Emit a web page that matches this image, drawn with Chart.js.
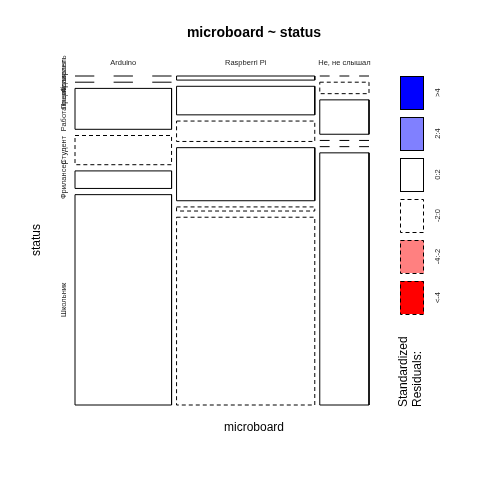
<!DOCTYPE html>
<html><head><meta charset="utf-8">
<script src="https://cdn.jsdelivr.net/npm/chart.js@4/dist/chart.umd.min.js"></script>
<style>html,body{margin:0;padding:0;background:#fff}</style>
</head><body>
<canvas id="c" width="480" height="480"></canvas>
<script>
// ---- data ----
const microboardLevels = ["Arduino", "Raspberri Pi", "Не, не слышал"];
const statusLevels = ["Аспирант", "Преподаватель", "Работающий", "Студент", "Фрилансер", "Школьник"];
const countsArduino   = [0, 0, 7, 5, 3, 36];
const countsRaspberry = [1, 7, 5, 13, 1, 46];
const countsNone      = [0, 1, 3, 0, 0, 22];
const legendLabels = [">4", "2:4", "0:2", "-2:0", "-4:-2", "<-4"];
const legendColors = ["#0000FF", "#8080FF", "#FFFFFF", "#FFFFFF", "#FF8080", "#FF0000"];

const table = [countsArduino, countsRaspberry, countsNone];
const FONT = '"Liberation Sans", Arial, sans-serif';
const GX = 5 / 284, GY = 6.2 / 298;

const colTot = table.map(c => c.reduce((a, b) => a + b, 0));
const N = colTot.reduce((a, b) => a + b, 0);
const rowTot = statusLevels.map((_, i) => table.reduce((a, c) => a + c[i], 0));

const cells = [];
let x = 0;
table.forEach((col, j) => {
  const w = colTot[j] / N;
  let y = 0;
  col.forEach((n, i) => {
    const h = n / colTot[j];
    const e = colTot[j] * rowTot[i] / N;
    cells.push({ j, i, n, x0: x, x1: x + w, y0: y, y1: y + h, res: (n - e) / Math.sqrt(e) });
    y += h + GY;
  });
  x += w + GX;
});

function shade(r) {
  if (r > 4) return legendColors[0];
  if (r > 2) return legendColors[1];
  if (r >= 0) return legendColors[2];
  if (r >= -2) return legendColors[3];
  if (r >= -4) return legendColors[4];
  return legendColors[5];
}

const datasets = cells.map(c => {
  const pts = c.n > 0
    ? [{x:c.x0,y:c.y0},{x:c.x1,y:c.y0},{x:c.x1,y:c.y1},{x:c.x0,y:c.y1},{x:c.x0,y:c.y0}]
    : [{x:c.x0,y:c.y0},{x:c.x1,y:c.y0}];
  return {
    data: pts,
    borderColor: '#000',
    borderWidth: 1,
    backgroundColor: shade(c.res),
    fill: c.n > 0 ? 'shape' : false,
    borderDash: c.res < 0 ? [4, 3] : [],
    pointRadius: 0,
    tension: 0,
    clip: false
  };
});

const textPlugin = {
  id: 'texts',
  beforeDraw(chart) {
    const g = chart.ctx;
    g.save(); g.fillStyle = '#fff'; g.fillRect(0, 0, chart.width, chart.height); g.restore();
  },
  afterDraw(chart) {
    const g = chart.ctx, sx = chart.scales.x, sy = chart.scales.y;
    g.save();
    g.fillStyle = '#000';
    g.textAlign = 'center'; g.textBaseline = 'middle';
    g.font = 'bold 14px ' + FONT;
    g.fillText('microboard ~ status', 254, 33);
    g.font = '12px ' + FONT;
    g.fillText('microboard', 254, 428);
    g.save(); g.translate(37, 240); g.rotate(-Math.PI / 2); g.fillText('status', 0, 0); g.restore();

    // column labels
    g.font = '7.5px ' + FONT; g.fillStyle = '#222';
    cells.filter(c => c.i === 0).forEach(c => {
      g.fillText(microboardLevels[c.j], (sx.getPixelForValue(c.x0) + sx.getPixelForValue(c.x1)) / 2, 63);
    });
    // row labels (positioned by first column)
    cells.filter(c => c.j === 0).forEach(c => {
      const yc = (sy.getPixelForValue(c.y0) + sy.getPixelForValue(c.y1)) / 2;
      g.save(); g.translate(64, yc); g.rotate(-Math.PI / 2);
      g.fillText(statusLevels[c.i], 0, 0); g.restore();
    });

    // legend
    legendLabels.forEach((lab, k) => {
      const top = 76 + k * 41, h = 33;
      g.save();
      g.fillStyle = legendColors[k];
      g.fillRect(400, top, 24, h);
      g.strokeStyle = '#000'; g.lineWidth = 1;
      g.setLineDash(k >= 3 ? [4, 3] : []);
      g.strokeRect(400.5, top + 0.5, 23, h);
      g.restore();
      g.save(); g.translate(438, top + h / 2); g.rotate(-Math.PI / 2);
      g.fillStyle = '#222'; g.font = '7.5px ' + FONT; g.fillText(lab, 0, 0); g.restore();
    });
    g.save(); g.fillStyle = '#000'; g.font = '12px ' + FONT; g.textAlign = 'left';
    g.translate(404, 407); g.rotate(-Math.PI / 2);
    g.fillText('Standardized', 0, 0);
    g.fillText('Residuals:', 0, 14);
    g.restore();
    g.restore();
  }
};

const chart = new Chart(document.getElementById('c'), {
  type: 'line',
  data: { datasets },
  options: {
    responsive: false, animation: false, events: [],
    layout: { padding: { left: 75, right: 111, top: 76, bottom: 75 } },
    scales: {
      x: { type: 'linear', min: 0, max: 1 + 2 * GX, display: false },
      y: { type: 'linear', min: 0, max: 1 + 5 * GY, reverse: true, display: false }
    },
    plugins: { legend: { display: false }, title: { display: false }, tooltip: { enabled: false } }
  },
  plugins: [textPlugin]
});

// zero cells: long dashes, three per cell width
cells.forEach((c, k) => {
  if (c.n === 0) {
    const w = chart.scales.x.getPixelForValue(c.x1) - chart.scales.x.getPixelForValue(c.x0);
    chart.data.datasets[k].borderDash = [w / 5, w / 5];
  }
});
chart.update();
</script>
</body></html>
